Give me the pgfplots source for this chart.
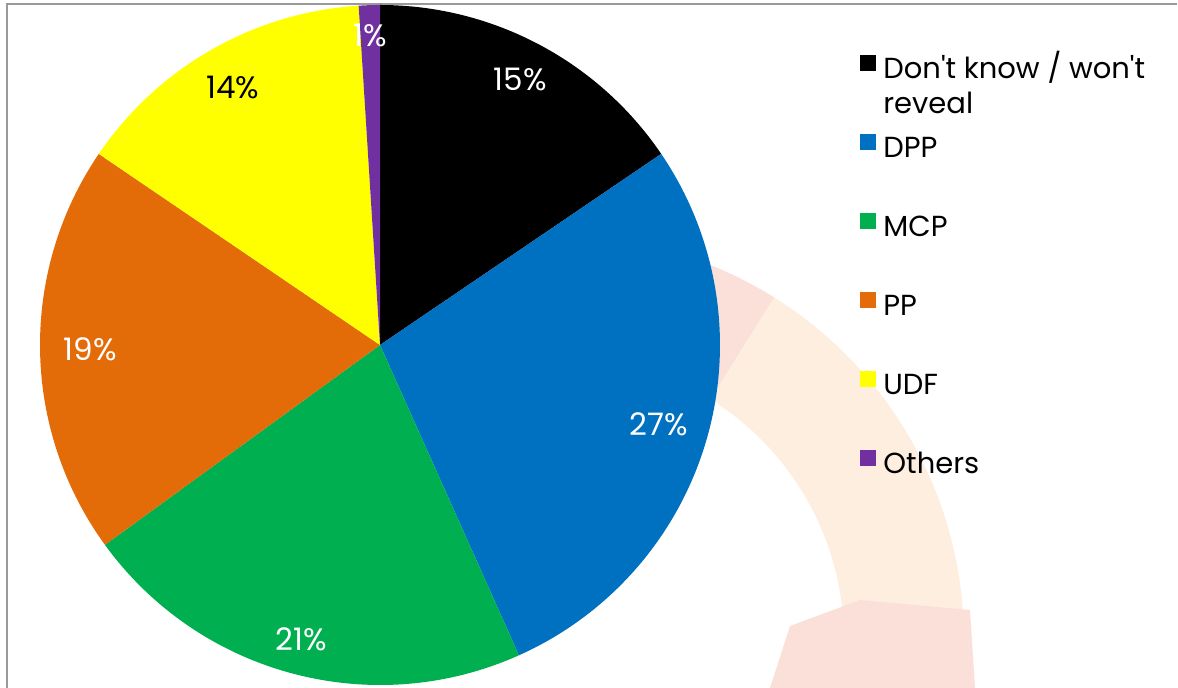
\documentclass[border=0pt]{standalone}
\usepackage{fontspec}
\setmainfont{Poppins}[Ligatures=TeXOff]
\usepackage{pgfplots}
\usepackage{pgfplotstable}
\pgfplotsset{compat=1.18}

\definecolor{cDK}{HTML}{000000}
\definecolor{cDPP}{HTML}{0070C0}
\definecolor{cMCP}{HTML}{00B050}
\definecolor{cPP}{HTML}{E36C09}
\definecolor{cUDF}{HTML}{FFFF00}
\definecolor{cOth}{HTML}{7030A0}
\definecolor{bgpeach}{HTML}{FDEEE0}
\definecolor{bgpink}{HTML}{FBE0DA}

% share in %, printed label, label radius (px), fill, text colour
\pgfplotstableread{
share label lr  col  txt
15.5  15    300 cDK  white
27.8  27    290 cDPP white
21.7  21    305 cMCP white
19.5  19    290 cPP  white
14.5  14    297 cUDF black
1.0   1     310 cOth white
}\pietable

\tikzset{pielabel/.style={font=\fontsize{15.5}{18}\selectfont}}
\newcommand\pcx{380}\newcommand\pcy{343}\newcommand\pr{340}

\begin{document}
\begin{tikzpicture}
\begin{axis}[
    anchor=origin, at={(0,0)},
    x=0.5pt, y=0.5pt,
    xmin=0, xmax=1178, ymin=0, ymax=688,
    hide axis, clip=true,
    legend style={at={(axis cs:860,633)}, anchor=north west, draw=none, fill=none,
        inner sep=0pt, row sep=25.0pt, column sep=3.5pt,
        nodes={inner sep=0pt, text height=10pt, text depth=3pt},
        font=\fontsize{14.5}{16.5}\selectfont},
    legend cell align=left,
    legend image code/.code={\fill[#1, draw=none] (0pt,0pt) rectangle (8pt,8pt);},
]
% faint slide decoration behind the chart
\fill[bgpeach] (axis cs:560,48) ++(0:142pt) arc[start angle=0, end angle=58, radius=142pt]
    -- ++(58:60pt) arc[start angle=58, end angle=0, radius=202pt] -- cycle;
\fill[bgpink] (axis cs:560,48) ++(58:142pt) arc[start angle=58, end angle=70, radius=142pt]
    -- ++(70:60pt) arc[start angle=70, end angle=58, radius=202pt] -- cycle;
\fill[bgpink] (axis cs:770,0) -- (axis cs:790,62) -- (axis cs:860,88) -- (axis cs:970,78) -- (axis cs:975,0) -- cycle;
\draw[gray!80, line width=1pt] (axis cs:7,-10) -- (axis cs:7,683.5) -- (axis cs:1177,683.5);

\addlegendimage{fill=cDK}\addlegendentry{\smash{\begin{tabular}[t]{@{}l@{}}Don't know / won't\\[1pt]reveal\end{tabular}}}
\addlegendimage{fill=cDPP}\addlegendentry{DPP}
\addlegendimage{fill=cMCP}\addlegendentry{MCP}
\addlegendimage{fill=cPP}\addlegendentry{PP}
\addlegendimage{fill=cUDF}\addlegendentry{UDF}
\addlegendimage{fill=cOth}\addlegendentry{Others}

\pgfplotstablegetrowsof{\pietable}
\pgfmathtruncatemacro\lastrow{\pgfplotsretval-1}
\xdef\cum{0}
\pgfplotsinvokeforeach{0,...,\lastrow}{
    \pgfplotstablegetelem{#1}{share}\of\pietable \let\sh\pgfplotsretval
    \pgfplotstablegetelem{#1}{label}\of\pietable \let\lb\pgfplotsretval
    \pgfplotstablegetelem{#1}{lr}\of\pietable \let\lr\pgfplotsretval
    \pgfplotstablegetelem{#1}{col}\of\pietable \let\col\pgfplotsretval
    \pgfplotstablegetelem{#1}{txt}\of\pietable \let\txt\pgfplotsretval
    \pgfmathsetmacro\aS{90-3.6*\cum}
    \pgfmathsetmacro\aE{\aS-3.6*\sh}
    \pgfmathsetmacro\aM{(\aS+\aE)/2}
    \pgfmathsetmacro\px{\pcx+\pr*cos(\aS)}
    \pgfmathsetmacro\py{\pcy+\pr*sin(\aS)}
    \pgfmathsetmacro\lx{\pcx+\lr*cos(\aM)}
    \pgfmathsetmacro\ly{\pcy+\lr*sin(\aM)}
    \edef\doslice{%
        \noexpand\fill[\col] (axis cs:\pcx,\pcy) -- (axis cs:\px,\py)
            arc[start angle=\aS, end angle=\aE, radius=170pt] -- cycle;
        \noexpand\node[pielabel, text=\txt] at (axis cs:\lx,\ly) {\lb\noexpand\%};}
    \doslice
    \pgfmathsetmacro\newcum{\cum+\sh}
    \xdef\cum{\newcum}
}
\end{axis}
\pgfresetboundingbox
\path (0,0) rectangle (589pt,344pt);
\end{tikzpicture}
\end{document}
